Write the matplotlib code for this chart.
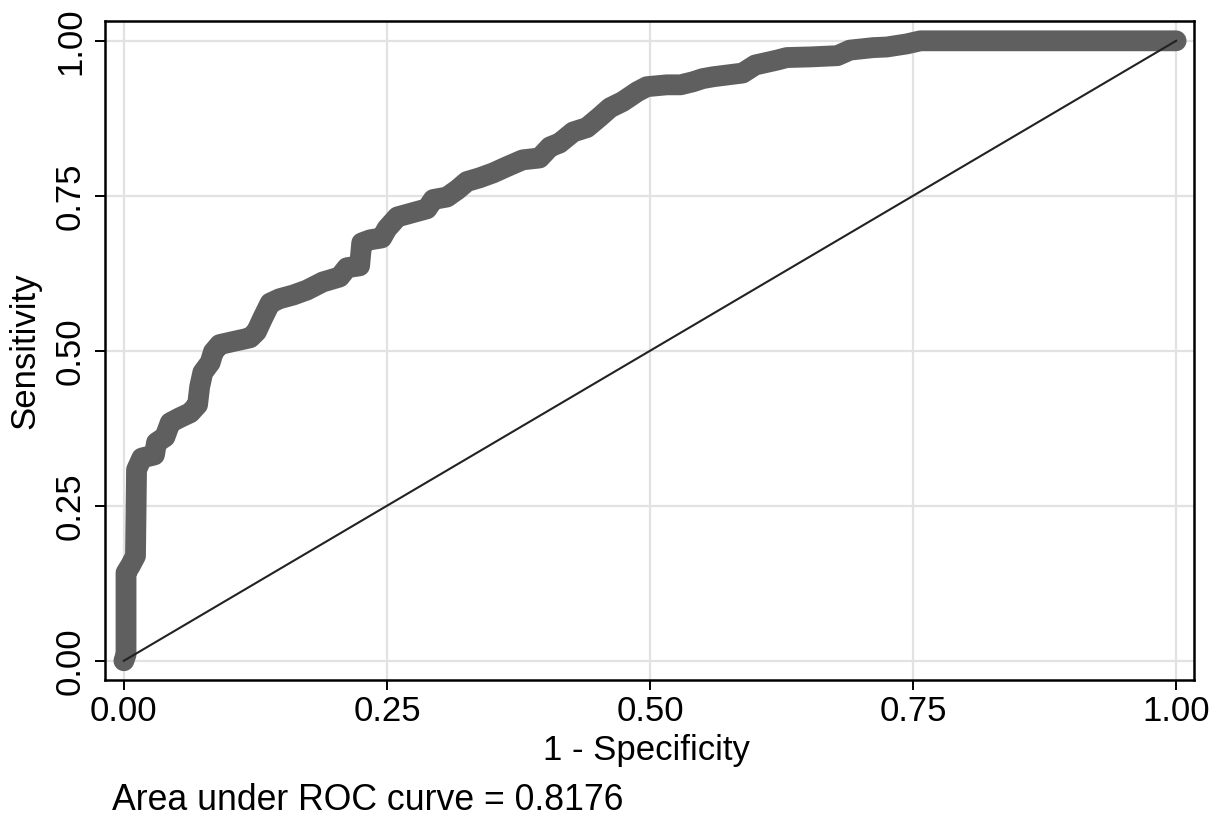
#ROC curve (Stata style)
import numpy as np
import matplotlib
matplotlib.use("Agg")
import matplotlib.pyplot as plt

plt.rcParams['font.family'] = ['Liberation Sans', 'DejaVu Sans']

#1 - specificity and sensitivity
fpr = [0.0, 0.002, 0.002, 0.006, 0.011, 0.012, 0.017, 0.029, 0.031, 0.039,
       0.044, 0.053, 0.063, 0.070, 0.072, 0.075, 0.082, 0.085, 0.091, 0.104,
       0.120, 0.126, 0.132, 0.139, 0.148, 0.161, 0.174, 0.189, 0.205, 0.212,
       0.224, 0.226, 0.234, 0.245, 0.250, 0.260, 0.275, 0.288, 0.294, 0.307,
       0.317, 0.326, 0.338, 0.351, 0.364, 0.379, 0.395, 0.405, 0.414, 0.427,
       0.440, 0.452, 0.462, 0.474, 0.488, 0.497, 0.516, 0.529, 0.541, 0.550,
       0.560, 0.588, 0.600, 0.621, 0.630, 0.652, 0.678, 0.690, 0.712, 0.725,
       0.744, 0.757, 1.0]
tpr = [0.0, 0.010, 0.142, 0.153, 0.169, 0.308, 0.327, 0.332, 0.352, 0.361,
       0.384, 0.392, 0.400, 0.413, 0.442, 0.465, 0.481, 0.498, 0.510, 0.515,
       0.521, 0.531, 0.553, 0.577, 0.584, 0.590, 0.598, 0.611, 0.619, 0.634,
       0.637, 0.674, 0.679, 0.682, 0.697, 0.716, 0.723, 0.729, 0.744, 0.748,
       0.760, 0.773, 0.779, 0.787, 0.797, 0.808, 0.811, 0.829, 0.835, 0.853,
       0.860, 0.877, 0.892, 0.902, 0.918, 0.926, 0.929, 0.929, 0.934, 0.939,
       0.942, 0.948, 0.961, 0.969, 0.973, 0.974, 0.976, 0.985, 0.989, 0.990,
       0.995, 1.0, 1.0]
ticks = [0.0, 0.25, 0.5, 0.75, 1.0]
tick_labels = ["0.00", "0.25", "0.50", "0.75", "1.00"]
auc = 0.8176

fig = plt.figure(figsize=(12.22, 8.16), dpi=100)
ax = fig.add_axes([0.0859, 0.1667, 0.8912, 0.8076])

#grid
ax.set_axisbelow(True)
ax.grid(True, color="#e2e2e2", linewidth=1.6)

#curve and reference line
ax.plot(fpr, tpr, color="#5f5f5f", linewidth=15, solid_capstyle="round",
        solid_joinstyle="round", zorder=2)
ax.plot([0, 1], [0, 1], color="#222222", linewidth=1.5, zorder=3)

ax.set_xlim(-0.018, 1.017)
ax.set_ylim(-0.031, 1.032)
ax.set_xticks(ticks)
ax.set_xticklabels(tick_labels)
ax.set_yticks(ticks)
ax.set_yticklabels(tick_labels, rotation=90, va="center")
ax.tick_params(axis="both", length=7, width=1.4, labelsize=25, color="black")
ax.tick_params(axis="x", pad=4)
ax.tick_params(axis="y", pad=6)
for s in ax.spines.values():
    s.set_linewidth(1.8)
    s.set_color("black")

fig.text(0.529, 0.0686, "1 - Specificity", fontsize=25, ha="center", va="baseline")
fig.text(0.020, 0.570, "Sensitivity", fontsize=25, rotation=90, ha="center", va="center")
fig.text(0.0917, 0.0074, "Area under ROC curve = %.4f" % auc, fontsize=25.7,
         ha="left", va="baseline")

fig.savefig("out.png", dpi=100)
